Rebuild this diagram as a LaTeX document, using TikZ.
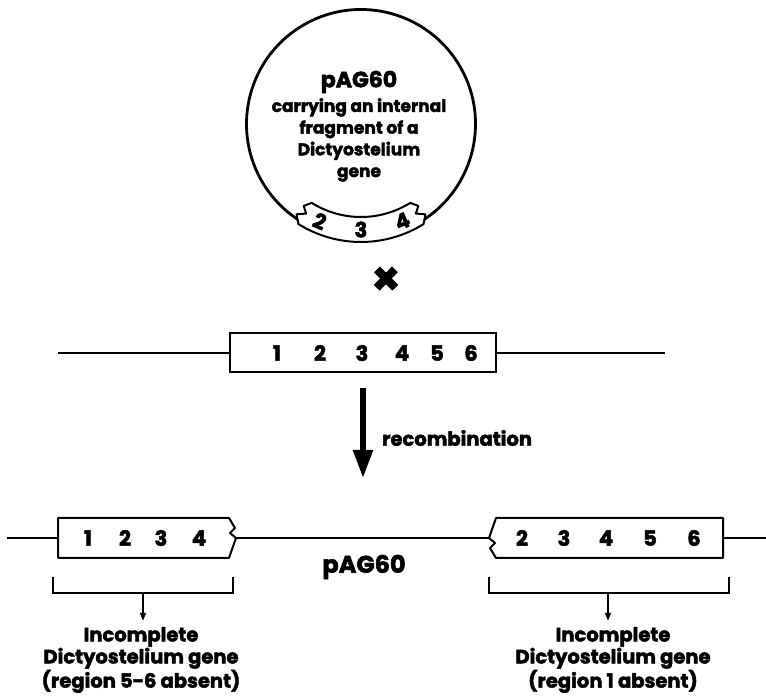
\documentclass[tikz,border=0pt]{standalone}
\usepackage{fontspec}
\setmainfont{Poppins}[BoldFeatures={FakeBold=2.3}]
\usetikzlibrary{arrows.meta,positioning}

\def\genedigits{{277/1}, {320/2}, {362/3}, {402/4}, {437/5}, {471/6}}
\def\leftdigits{{88/1}, {125/2}, {161/3}, {199/4}}
\def\rightdigits{{522/2}, {564/3}, {606/4}, {650/5}, {694/6}}
\tikzstyle{digit}=[font=\bfseries\fontsize{21}{21}\selectfont, inner sep=0pt]
\tikzstyle{title}=[font=\bfseries\fontsize{22}{22}\selectfont, inner sep=0pt]
\tikzstyle{caption}=[font=\bfseries\fontsize{19.5}{22}\selectfont, align=center, inner sep=0pt]
\tikzstyle{dna}=[line width=2.6pt]
\tikzstyle{genebox}=[draw, line width=2pt, fill=white, minimum width=266pt, minimum height=39pt, inner sep=0pt]
\tikzstyle{fragment}=[draw, line width=2pt, fill=white, line join=round]
\tikzstyle{bracket}=[line width=1.8pt]
\tikzstyle{big arrow}=[line width=5.5pt, -{Triangle[width=19pt,length=28pt]}]
\tikzstyle{small arrow}=[line width=1.6pt, -{Triangle[width=6pt,length=8pt]}]

\begin{document}
\begin{tikzpicture}[x=1pt,y=1pt]
  \useasboundingbox (0,0) rectangle (766,696);

  % The plasmid, opened at the bottom where the insert sits
  \coordinate (pc) at (361,572);
  \draw[line width=2.8pt] ([shift={(302:114.5)}]pc) arc[start angle=302, end angle=598, radius=114.5];
  \path[fragment] ([shift={(238:93)}]pc) arc[start angle=238, end angle=302, radius=93]
    -- ([shift={(305:100)}]pc) -- ([shift={(301.5:105)}]pc) -- ([shift={(305.5:111)}]pc) -- ([shift={(302:118)}]pc)
    arc[start angle=302, end angle=238, radius=118]
    -- ([shift={(234.5:111)}]pc) -- ([shift={(238.5:105)}]pc) -- ([shift={(235:100)}]pc) -- cycle;
  \foreach \ang/\num in {247/2, 270/3, 293/4}
    \node[digit, rotate=\ang-270] (ins\num) at ([shift={(\ang:105.5)}]pc) {\num};

  \node[title] (plasmid) at (359,614) {pAG60};
  \node[caption, font=\bfseries\fontsize{17}{21.7}\selectfont] (insertdesc) at (359,556)
    {carrying an internal\\fragment of a\\Dictyostelium\\gene};

  \node[font=\bfseries\fontsize{46}{46}\selectfont, inner sep=0pt] (cross) at (386,415) {×};

  % The intact gene on the chromosome
  \coordinate (geneL) at (58,343);
  \coordinate (geneR) at (665,343);
  \node[genebox] (gene) at (363,343) {};
  \path[dna] (geneL) edge (gene.west) (gene.east) edge (geneR);
  \foreach \x/\num in \genedigits
    \node[digit] (g\num) at (\x,343) {\num};

  \coordinate (recombtip) at (363,218);
  \draw[big arrow, shorten <=15pt] (gene.south) -- (recombtip);
  \node[caption, anchor=west] (recomb) at (382,258) {recombination};

  % The two broken copies after integration
  \coordinate (farL) at (7,158);
  \coordinate (farR) at (766,158);
  \path[fragment] (58,178) -- (229,178) -- (235,168) -- (230,163) -- (236,158) coordinate (ljag)
    -- (229,138) -- (58,138) coordinate (lfragSW) -- cycle;
  \path[fragment] (723,178) -- (723,138) coordinate (rfragSE) -- (496,138) -- (490,148) -- (495,153)
    -- (489,158) coordinate (rjag) -- (496,178) -- cycle;
  \draw[dna] (farL) -- (58,158);
  \draw[dna] (ljag) -- (rjag);
  \draw[dna] (723,158) -- (farR);
  \foreach \x/\num in \leftdigits
    \node[digit] (l\num) at (\x,158) {\num};
  \foreach \x/\num in \rightdigits
    \node[digit] (r\num) at (\x,158) {\num};
  \node[title, font=\bfseries\fontsize{24}{24}\selectfont] (product) at (364,129) {pAG60};

  % Brackets and what they give
  \draw[bracket] (53,119) |- (233,103) -- (233,119);
  \draw[bracket] (489,119) |- (729,103) -- (729,119);
  \coordinate (lbrack) at (143,103);
  \coordinate (rbrack) at (608,103);
  \node[caption] (lefttext) at (141,36) {Incomplete\\Dictyostelium gene\\(region 5-6 absent)};
  \node[caption] (righttext) at (613,36) {Incomplete\\Dictyostelium gene\\(region 1 absent)};
  \draw[small arrow, shorten >=6pt] (lbrack) -- (lbrack |- lefttext.north);
  \draw[small arrow, shorten >=6pt] (rbrack) -- (rbrack |- righttext.north);
\end{tikzpicture}
\end{document}
